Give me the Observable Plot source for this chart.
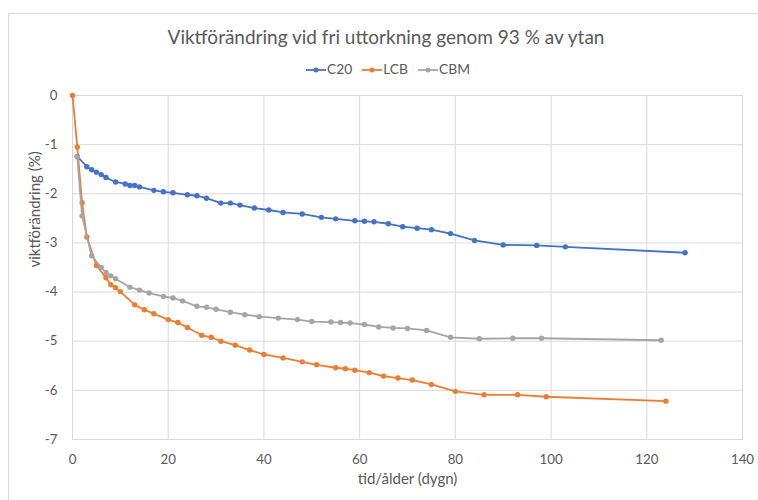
<!DOCTYPE html>
<html>
<head>
<meta charset="utf-8">
<script src="https://cdn.jsdelivr.net/npm/d3@7"></script>
<script src="https://cdn.jsdelivr.net/npm/@observablehq/plot@0.6"></script>
<style>
  html, body { margin: 0; padding: 0; background: #fff; overflow: hidden; }
  #wrap { position: relative; width: 758px; height: 500px; font-family: Lato, "Open Sans", sans-serif; }
  #border { position: absolute; left: 8px; top: 13px; width: 800px; height: 600px; border: 1px solid #d9d9d9; box-sizing: border-box; }
  #title { position: absolute; left: 0; width: 772px; top: 25px; text-align: center; font-size: 19px; color: #595959; line-height: 24px; }
  #legend { position: absolute; left: 0; width: 776px; top: 61px; text-align: center; font-size: 13.8px; color: #595959; line-height: 16px; }
  #legend span.item { display: inline-block; margin: 0 5px; }
  #legend svg { vertical-align: middle; margin-right: 1px; position: relative; top: -1px; }
  #chart { position: absolute; left: 0; top: 0; }
</style>
</head>
<body>
<div id="wrap">
  <div id="border"></div>
  <div id="chart"></div>
  <div id="title">Viktförändring vid fri uttorkning genom 93 % av ytan</div>
  <div id="legend"></div>
</div>
<script>
const seriesNames = ["C20", "LCB", "CBM"];
const seriesColors = ["#4472C4", "#ED7D31", "#A5A5A5"];

const c20Days = [1, 3, 4, 5, 6, 7, 9, 11, 12, 13, 14, 17, 19, 21, 24, 26, 28, 31, 33, 35, 38, 41, 44, 48, 52, 55, 59, 61, 63, 66, 69, 72, 75, 79, 84, 90, 97, 103, 128];
const c20Values = [-1.24, -1.45, -1.51, -1.56, -1.61, -1.67, -1.76, -1.80, -1.83, -1.83, -1.86, -1.93, -1.96, -1.98, -2.02, -2.04, -2.09, -2.19, -2.19, -2.23, -2.29, -2.33, -2.38, -2.41, -2.48, -2.51, -2.55, -2.56, -2.57, -2.61, -2.67, -2.70, -2.73, -2.81, -2.95, -3.04, -3.05, -3.08, -3.20];

const lcbDays = [0, 1, 2, 3, 5, 7, 8, 9, 10, 13, 15, 17, 20, 22, 24, 27, 29, 31, 34, 37, 40, 44, 48, 51, 55, 57, 59, 62, 65, 68, 71, 75, 80, 86, 93, 99, 124];
const lcbValues = [0, -1.05, -2.18, -2.88, -3.46, -3.71, -3.85, -3.91, -3.99, -4.26, -4.36, -4.44, -4.56, -4.62, -4.72, -4.88, -4.92, -5.00, -5.08, -5.18, -5.27, -5.34, -5.42, -5.48, -5.54, -5.56, -5.59, -5.64, -5.71, -5.75, -5.79, -5.88, -6.02, -6.09, -6.09, -6.13, -6.22];

const cbmDays = [1, 2, 4, 6, 7, 8, 9, 12, 14, 16, 19, 21, 23, 26, 28, 30, 33, 36, 39, 43, 47, 50, 54, 56, 58, 61, 64, 67, 70, 74, 79, 85, 92, 98, 123];
const cbmValues = [-1.25, -2.45, -3.26, -3.50, -3.60, -3.67, -3.73, -3.90, -3.96, -4.02, -4.09, -4.12, -4.18, -4.29, -4.31, -4.35, -4.41, -4.46, -4.50, -4.53, -4.56, -4.60, -4.61, -4.62, -4.63, -4.66, -4.71, -4.73, -4.74, -4.78, -4.92, -4.95, -4.94, -4.94, -4.98];

const xTicks = [0, 20, 40, 60, 80, 100, 120, 140];
const yTicks = [-7, -6, -5, -4, -3, -2, -1, 0];
const xTitle = "tid/ålder (dygn)";
const yTitle = "viktförändring (%)";

const toRows = (days, vals) => days.map((d, i) => ({day: d, value: vals[i]}));
const series = [
  toRows(c20Days, c20Values),
  toRows(lcbDays, lcbValues),
  toRows(cbmDays, cbmValues)
];

const seriesMarks = series.flatMap((rows, i) => [
  Plot.line(rows, {x: "day", y: "value", stroke: seriesColors[i], strokeWidth: 1.8}),
  Plot.dot(rows, {x: "day", y: "value", fill: seriesColors[i], r: 2.7, stroke: "none"})
]);

const chart = Plot.plot({
  width: 758,
  height: 500,
  marginLeft: 72,
  marginRight: 16,
  marginTop: 95,
  marginBottom: 61,
  style: {fontFamily: "Lato, 'Open Sans', sans-serif", fontSize: "13.3px", color: "#595959", background: "transparent"},
  x: {domain: [0, 140]},
  y: {domain: [-7, 0]},
  marks: [
    Plot.gridX(xTicks, {stroke: "#d9d9d9", strokeOpacity: 1, strokeWidth: 1}),
    Plot.gridY(yTicks, {stroke: "#d9d9d9", strokeOpacity: 1, strokeWidth: 1}),
    Plot.frame({stroke: "#d9d9d9", strokeWidth: 1}),
    Plot.axisX(xTicks, {tickSize: 0, tickPadding: 15, tickFormat: d => String(d), label: null, fill: "#595959"}),
    Plot.axisY(yTicks, {tickSize: 0, tickPadding: 15, tickFormat: d => String(d), label: null, fill: "#595959"}),
    Plot.text([xTitle], {text: d => d, frameAnchor: "bottom", dy: 44, fontSize: 15, fill: "#595959"}),
    Plot.text([yTitle], {text: d => d, frameAnchor: "left", dx: -37, rotate: -90, fontSize: 15, fill: "#595959"}),
    ...seriesMarks
  ]
});
document.getElementById("chart").appendChild(chart);

const legend = document.getElementById("legend");
seriesNames.forEach((name, i) => {
  const item = document.createElement("span");
  item.className = "item";
  item.innerHTML = `<svg width="20" height="8"><line x1="0" x2="20" y1="4" y2="4" stroke="${seriesColors[i]}" stroke-width="1.8"/><circle cx="10" cy="4" r="2.5" fill="${seriesColors[i]}"/></svg>${name}`;
  legend.appendChild(item);
});
</script>
</body>
</html>
